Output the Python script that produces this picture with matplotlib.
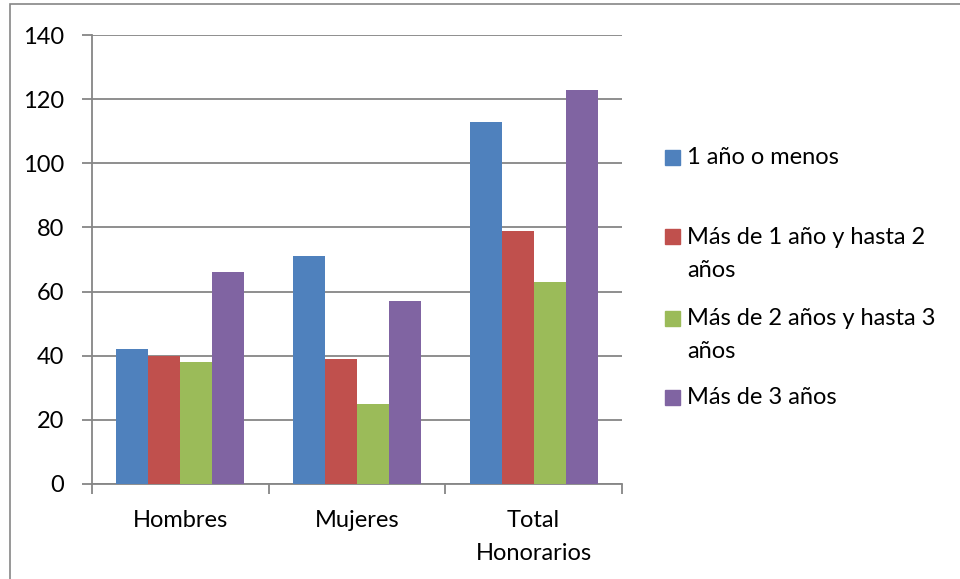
import numpy as np
import matplotlib
matplotlib.use('Agg')
import matplotlib.pyplot as plt
from matplotlib.patches import Rectangle

plt.rcParams['font.family'] = ['Lato', 'DejaVu Sans']

categories = ['Hombres', 'Mujeres', 'Total\nHonorarios']
series = ['1 año o menos', 'Más de 1 año y hasta 2\naños',
          'Más de 2 años y hasta 3\naños', 'Más de 3 años']
values = [[42, 71, 113],
          [40, 39, 79],
          [38, 25, 63],
          [66, 57, 123]]
colors = ['#4f81bd', '#c0504d', '#9bbb59', '#8064a2']
yticks = [0, 20, 40, 60, 80, 100, 120, 140]

W, H = 960, 579
FS = 17
LS = 1.7
fig = plt.figure(figsize=(W / 100, H / 100), dpi=100)
ax = fig.add_axes([92 / W, 1 - 484 / H, (622 - 92) / W, (484 - 35) / H])

grey = '#868686'
x = np.arange(len(categories))
bw = 0.181
for i, (vals, col) in enumerate(zip(values, colors)):
    ax.bar(x + (i - 1.5) * bw, vals, bw, color=col, zorder=3, linewidth=0)

ax.set_xlim(-0.5, len(categories) - 0.5)
ax.set_ylim(0, 140)
ax.set_yticks(yticks)
ax.yaxis.grid(True, color=grey, linewidth=1.3, zorder=0)
ax.set_axisbelow(True)

ax.set_xticks(x)
ax.set_xticklabels(categories, fontsize=FS, linespacing=LS)
ax.tick_params(axis='x', length=0, pad=19)
ax.set_xticks(np.arange(len(categories) + 1) - 0.5, minor=True)
ax.tick_params(axis='x', which='minor', length=7, color=grey, width=1.3)
ax.tick_params(axis='y', length=7, color=grey, width=1.3, labelsize=FS, pad=13)

for s in ['top', 'right']:
    ax.spines[s].set_visible(False)
for s in ['left', 'bottom']:
    ax.spines[s].set_color(grey)
    ax.spines[s].set_linewidth(1.3)

# legend drawn by hand so the square sits on the first line of each label
leg_y = [157, 237, 318, 397]
for lab, col, yy in zip(series, colors, leg_y):
    fig.patches.append(Rectangle((665 / W, 1 - (yy + 7.5) / H), 15 / W, 15 / H,
                                 transform=fig.transFigure, color=col))
    fig.text(687 / W, 1 - (yy - 10) / H, lab, fontsize=FS, va='top', ha='left',
             linespacing=LS)

# outer chart border (only left/top edges are in frame)
fig.patches.append(Rectangle((9.5 / W, -0.1), 1.2, (1 - 4.5 / H) + 0.1,
                             transform=fig.transFigure, fill=False,
                             edgecolor=grey, linewidth=1.2))

fig.savefig('out.png', dpi=100)
